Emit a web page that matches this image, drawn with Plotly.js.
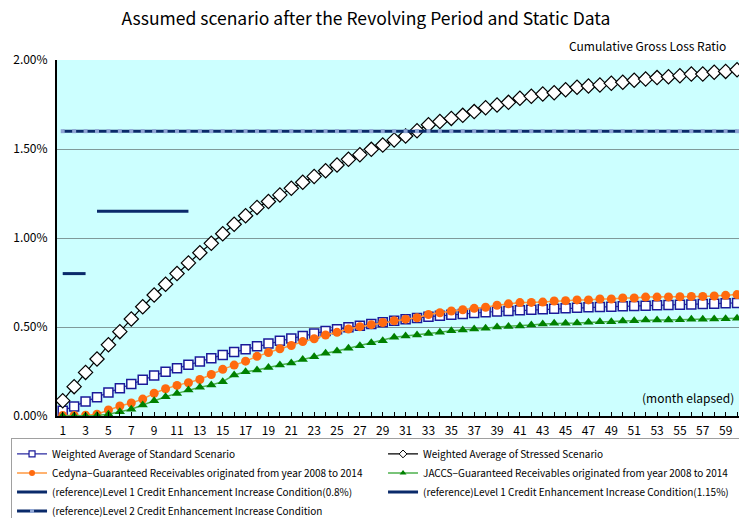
<!DOCTYPE html>
<html>
<head>
<meta charset="utf-8">
<script src="https://cdn.plot.ly/plotly-3.0.1.min.js"></script>
<style>html,body{margin:0;padding:0;background:#fff;}#chart{width:739px;height:518px;}</style>
</head>
<body>
<div id="chart"></div>
<script>
const months = Array.from({length: 60}, (_, i) => i + 1);

const standardScenario = [0.030,0.054,0.081,0.106,0.132,0.156,0.180,0.204,0.227,0.249,
  0.268,0.288,0.306,0.325,0.343,0.359,0.375,0.392,0.408,0.423,
  0.436,0.449,0.464,0.477,0.487,0.498,0.507,0.517,0.526,0.535,
  0.543,0.551,0.558,0.563,0.569,0.573,0.579,0.583,0.587,0.590,
  0.594,0.597,0.600,0.603,0.605,0.608,0.611,0.612,0.614,0.616,
  0.618,0.620,0.622,0.624,0.625,0.627,0.629,0.631,0.633,0.635];

const stressedScenario = [0.086,0.165,0.245,0.320,0.400,0.474,0.545,0.614,0.680,0.740,
  0.800,0.860,0.917,0.970,1.024,1.077,1.125,1.172,1.205,1.242,
  1.279,1.313,1.346,1.378,1.410,1.442,1.468,1.498,1.522,1.551,
  1.573,1.603,1.636,1.654,1.672,1.689,1.710,1.732,1.747,1.762,
  1.785,1.796,1.809,1.816,1.833,1.847,1.854,1.860,1.869,1.875,
  1.886,1.893,1.901,1.906,1.912,1.921,1.921,1.931,1.936,1.945];

const cedyna = [0.003,0.003,0.004,0.010,0.034,0.056,0.073,0.095,0.128,0.153,
  0.172,0.187,0.205,0.233,0.262,0.286,0.308,0.335,0.357,0.378,
  0.396,0.418,0.434,0.455,0.470,0.489,0.502,0.513,0.525,0.535,
  0.544,0.552,0.570,0.580,0.590,0.597,0.605,0.611,0.622,0.630,
  0.637,0.638,0.640,0.646,0.648,0.652,0.652,0.657,0.657,0.663,
  0.663,0.668,0.668,0.669,0.670,0.672,0.672,0.674,0.678,0.682];

const jaccs = [0.000,0.000,0.000,0.003,0.010,0.024,0.038,0.062,0.086,0.108,
  0.127,0.146,0.161,0.174,0.193,0.230,0.249,0.258,0.273,0.287,
  0.298,0.318,0.333,0.352,0.365,0.380,0.395,0.412,0.423,0.442,
  0.449,0.455,0.464,0.470,0.479,0.483,0.489,0.493,0.500,0.503,
  0.506,0.511,0.517,0.521,0.521,0.522,0.526,0.530,0.530,0.534,
  0.535,0.539,0.539,0.539,0.541,0.543,0.543,0.545,0.547,0.549];

const level1aMonths = [1, 2, 3];
const level1aValues = [0.8, 0.8, 0.8];
const level1bMonths = [4, 5, 6, 7, 8, 9, 10, 11, 12];
const level1bValues = [1.15, 1.15, 1.15, 1.15, 1.15, 1.15, 1.15, 1.15, 1.15];
const level2Values = months.map(() => 1.6);

const names = [
  "Weighted Average of Standard Scenario",
  "Weighted Average of Stressed Scenario",
  "Cedyna\u2212Guaranteed Receivables originated from year 2008 to 2014",
  "JACCS\u2212Guaranteed Receivables originated from year 2008 to 2014",
  "(reference)Level 1 Credit Enhancement Increase Condition(0.8%)",
  "(reference)Level 1 Credit Enhancement Increase Condition(1.15%)",
  "(reference)Level 2 Credit Enhancement Increase Condition"
];

const xTickVals = months;
const xTickText = months.map(m => (m % 2 === 1 ? String(m) : ""));
const yTickVals = [0, 0.5, 1.0, 1.5, 2.0];
const yTickText = ["0.00%", "0.50%", "1.00%", "1.50%", "2.00%"];

const FONT = "'Noto Sans CJK JP', 'DejaVu Sans', sans-serif";

const styles = [
  {mode: 'lines+markers', line: {color: '#2a2aa0', width: 1.2},
   marker: {symbol: 'square', size: 9, color: '#ffffff', line: {color: '#1a1a99', width: 1.5}},
   lm: {symbol: 'square', size: 6, color: '#ffffff', line: {color: '#1a1a99', width: 1.2}}},
  {mode: 'lines+markers', line: {color: '#000000', width: 1.2},
   marker: {symbol: 'diamond', size: 11, color: '#ffffff', line: {color: '#000000', width: 1.2}},
   lm: {symbol: 'diamond', size: 6, color: '#ffffff', line: {color: '#000000', width: 1}}},
  {mode: 'lines+markers', line: {color: '#ff9940', width: 1.5},
   marker: {symbol: 'circle', size: 9, color: '#ff6a0f'},
   lm: {symbol: 'circle', size: 6, color: '#ff6a0f'}},
  {mode: 'lines+markers', line: {color: '#4cb04c', width: 1.5},
   marker: {symbol: 'triangle-up', size: 9, color: '#008000'},
   lm: {symbol: 'triangle-up', size: 6, color: '#008000'}},
  {mode: 'lines', line: {color: '#0a2a6a', width: 3}},
  {mode: 'lines', line: {color: '#0a2a6a', width: 3}},
  {mode: 'lines+markers', line: {color: '#0a2a6a', width: 3},
   marker: {symbol: 'square', size: 4, color: '#8fa6d6', line: {width: 0}},
   lm: {symbol: 'square', size: 4, color: '#8fa6d6', line: {width: 0}}}
];

const seriesX = [months, months, months, months, level1aMonths, level1bMonths, months];
const seriesY = [standardScenario, stressedScenario, cedyna, jaccs, level1aValues, level1bValues, level2Values];

const traces = [];
for (let i = 0; i < names.length; i++) {
  const s = styles[i];
  const t = {x: seriesX[i], y: seriesY[i], name: names[i], type: 'scatter', mode: s.mode,
             line: s.line, showlegend: false};
  if (s.marker) t.marker = s.marker;
  traces.push(t);
}
// legend entries with small symbols (no data drawn)
for (let i = 0; i < names.length; i++) {
  const s = styles[i];
  const t = {x: [null], y: [null], name: names[i], type: 'scatter', mode: s.mode,
             line: s.line, showlegend: true};
  if (s.lm) t.marker = s.lm;
  traces.push(t);
}

const layout = {
  width: 739, height: 518,
  margin: {l: 57, r: 0, t: 60, b: 102, autoexpand: false},
  paper_bgcolor: '#ffffff',
  plot_bgcolor: '#ccffff',
  font: {family: FONT, size: 12, color: '#000'},
  title: {text: 'Assumed scenario after the Revolving Period and Static Data',
          font: {family: FONT, size: 17.5, color: '#000'},
          x: 0.453, xref: 'paper', xanchor: 'center', y: 0.963, yanchor: 'middle'},
  showlegend: true,
  legend: {orientation: 'h', x: -0.0674, y: -0.063, xanchor: 'left', yanchor: 'top',
           entrywidth: 326, entrywidthmode: 'pixels', traceorder: 'normal',
           bordercolor: '#a0a0a0', borderwidth: 1, bgcolor: '#ffffff',
           font: {family: FONT, size: 10, color: '#000'}, itemwidth: 30, tracegroupgap: 0},
  xaxis: {range: [0.5, 60.17], tickmode: 'array', tickvals: xTickVals, ticktext: xTickText,
          ticks: 'inside', ticklen: 4, tickcolor: '#000', showgrid: false, zeroline: false,
          showline: true, linecolor: '#000', linewidth: 2, ticklabelstandoff: 3,
          tickfont: {family: FONT, size: 12, color: '#000'}, fixedrange: true},
  yaxis: {range: [0, 2], tickmode: 'array', tickvals: yTickVals, ticktext: yTickText,
          showgrid: true, gridcolor: '#7f9a9a', gridwidth: 1, zeroline: false,
          showline: true, linecolor: '#000', linewidth: 2, ticks: '', ticklabelstandoff: 5,
          tickfont: {family: FONT, size: 12, color: '#000'}, fixedrange: true},
  annotations: [
    {text: 'Cumulative Gross Loss Ratio', xref: 'paper', yref: 'paper', x: 0.748, y: 1.04,
     xanchor: 'left', yanchor: 'middle', showarrow: false, font: {family: FONT, size: 12, color: '#000'}},
    {text: '(month elapsed)', xref: 'paper', yref: 'paper', x: 0.995, y: 0.053,
     xanchor: 'right', yanchor: 'middle', showarrow: false, font: {family: FONT, size: 12, color: '#000'}}
  ]
};

Plotly.newPlot('chart', traces, layout, {displayModeBar: false, staticPlot: true});
</script>
</body>
</html>
